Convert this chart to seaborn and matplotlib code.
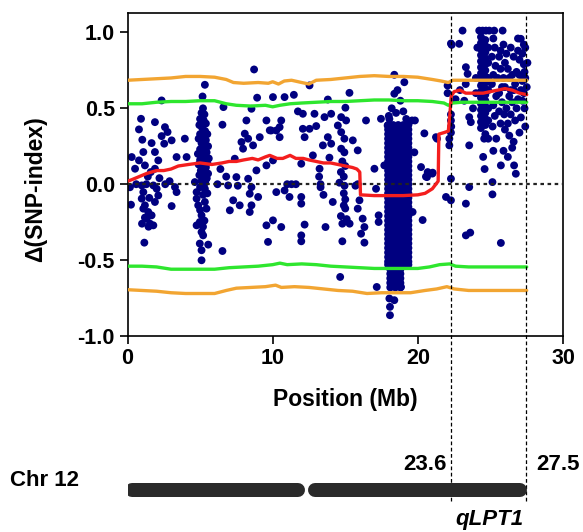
import matplotlib
matplotlib.use("Agg")
import matplotlib.pyplot as plt
import pandas as pd
import seaborn as sns

# ---------------- data ----------------
pts_0_4mb = [(0.17, -0.02), (0.24, -0.135), (0.29, 0.179), (0.52, 0.102), (0.79, 0.157), (0.79, 0.361),
             (0.93, 0.431), (0.98, -0.008), (0.98, -0.095), (1.02, 0.293), (1.09, 0.212), (1.09, -0.052),
             (1.09, -0.161), (1.2, 0.124), (1.2, -0.139), (1.16, -0.385), (1.32, -0.227), (1.43, -0.183),
             (1.55, -0.26), (1.66, 0.271), (1.66, -0.205), (1.78, -0.271), (1.78, -0.008), (1.89, 0.409),
             (1.89, 0.212), (1.89, 0.102), (1.89, -0.117), (2.01, -0.03), (2.12, 0.157), (2.12, -0.074),
             (2.35, 0.552), (2.35, 0.317), (2.53, 0.267), (2.58, 0.376), (2.76, 0.344), (3.04, 0.289),
             (3.04, -0.144), (3.27, -0.019), (3.38, 0.179), (3.38, -0.052), (3.95, 0.30), (4.07, 0.179),
             (1.4, 0.05), (1.6, 0.08), (2.2, 0.04), (0.6, 0.0), (2.6, 0.0), (2.9, 0.02), (1.3, 0.0),
             (1.5, -0.09), (1.2, -0.22), (1.0, -0.26), (1.45, -0.28)]
pts_5mb = [(5.33, 0.655), (5.17, 0.578), (5.2, 0.50), (5.1, 0.47), (5.3, 0.46), (5.0, 0.43), (5.25, 0.42),
           (4.95, 0.39), (5.4, 0.40), (5.15, 0.37), (5.35, 0.35), (5.0, 0.33), (5.5, 0.33), (5.2, 0.31),
           (4.9, 0.30), (5.4, 0.29), (5.1, 0.27), (5.3, 0.26), (5.55, 0.25), (5.0, 0.23), (5.2, 0.22),
           (5.45, 0.21), (4.85, 0.20), (5.1, 0.19), (5.35, 0.18), (5.6, 0.17), (5.0, 0.16), (5.25, 0.15),
           (5.5, 0.14), (4.9, 0.13), (5.15, 0.12), (5.4, 0.11), (5.05, 0.09), (5.3, 0.08), (5.55, 0.07),
           (4.95, 0.06), (5.2, 0.05), (5.45, 0.04), (5.1, 0.02), (5.35, 0.01), (4.64, 0.014), (5.44, 0.036),
           (4.76, -0.052), (4.76, -0.095), (4.87, -0.139), (5.33, -0.117), (5.44, -0.161), (5.1, -0.205),
           (4.98, -0.249), (4.76, -0.271), (5.1, -0.315), (5.21, -0.337), (4.98, -0.391), (5.56, -0.398),
           (5.1, -0.435), (5.1, -0.501), (5.33, -0.03), (5.0, -0.02), (5.2, -0.07), (5.5, -0.06),
           (5.0, -0.17), (5.3, -0.24), (5.2, -0.28)]
pts_6_11mb = [(6.61, 0.508), (6.54, 0.392), (6.54, -0.44), (6.93, -0.008), (7.05, -0.172), (7.28, -0.106),
              (7.39, 0.168), (7.5, 0.047), (7.73, -0.139), (7.85, 0.278), (7.96, 0.234), (8.08, 0.333),
              (8.19, 0.42), (8.31, 0.30), (8.31, 0.036), (8.42, -0.063), (8.42, -0.183), (8.54, 0.497),
              (8.54, -0.019), (8.54, -0.139), (8.65, 0.256), (8.72, 0.756), (8.88, 0.091), (8.93, 0.57),
              (9.0, -0.084), (9.11, 0.31), (9.57, 0.42), (9.57, 0.124), (9.57, -0.271), (9.68, -0.38),
              (9.8, 0.355), (10.02, 0.157), (10.02, -0.238), (9.9, 0.354), (10.02, 0.574), (10.25, 0.354),
              (10.48, 0.376), (10.48, 0.31), (10.59, 0.42), (10.25, -0.052), (10.59, -0.282), (10.82, 0.574),
              (10.82, -0.041), (6.2, 0.0), (6.8, 0.05), (7.6, -0.01), (6.4, 0.1)]
pts_11_18mb = [(11.16, -0.084), (11.46, 0.589), (11.74, 0.48), (11.97, 0.135), (11.97, -0.084),
               (11.97, -0.128), (11.97, -0.337), (11.97, -0.376), (12.08, 0.464), (12.08, 0.365),
               (12.2, 0.31), (12.2, -0.266), (12.54, 0.651), (12.54, 0.365), (12.77, 0.19), (12.88, 0.464),
               (13.0, 0.383), (13.23, 0.102), (13.46, 0.256), (13.57, 0.442), (13.64, -0.282), (13.8, 0.558),
               (13.8, 0.31), (13.91, 0.175), (14.03, 0.464), (14.03, 0.267), (14.14, -0.117), (14.49, 0.387),
               (15.29, 0.602), (15.01, 0.504), (15.52, 0.289), (15.86, 0.223), (15.86, -0.161),
               (15.98, -0.106), (16.2, -0.227), (16.32, -0.282), (16.09, -0.326), (16.32, -0.385),
               (16.43, 0.42), (17.01, 0.102), (17.12, -0.03), (17.17, -0.677), (17.3, -0.205), (17.3, -0.249),
               (17.46, 0.431), (17.69, 0.124), (11.0, 0.0), (11.3, 0.0), (11.6, 0.0), (13.2, 0.05),
               (13.3, -0.02), (13.5, -0.07), (13.3, 0.0), (15.7, -0.01), (15.86, 0.0),
               (14.72, 0.442), (15.06, 0.42), (14.72, 0.343), (14.94, 0.30), (14.72, 0.234), (14.94, 0.21),
               (14.8, 0.15), (15.0, 0.12), (14.7, 0.08), (14.9, 0.05), (14.6, 0.01), (14.95, -0.01),
               (14.9, -0.06), (15.0, -0.1), (14.9, -0.14), (15.0, -0.16), (14.7, -0.21), (14.8, -0.26),
               (15.3, -0.26), (15.1, -0.23), (14.8, -0.376), (14.65, -0.611)]
pts_around_blob = [(18.38, 0.721), (19.07, 0.672), (18.38, 0.596), (17.92, 0.387), (18.04, 0.43),
                   (19.6, 0.42), (19.8, 0.42), (18.2, 0.5), (18.5, 0.47), (19.0, 0.48), (18.8, 0.55),
                   (18.6, 0.62), (18.0, 0.45), (19.2, 0.43), (18.84, -0.677), (18.04, -0.753),
                   (18.38, -0.764), (18.08, -0.808), (18.08, -0.863), (19.64, -0.183)]
blob_cols = [17.95, 18.3, 18.65, 19.0, 19.35]
blob_rows = [0.39, 0.36, 0.33, 0.30, 0.27, 0.24, 0.21, 0.18, 0.15, 0.12, 0.09, 0.06, 0.03, 0.00,
             -0.03, -0.06, -0.09, -0.12, -0.15, -0.18, -0.21, -0.24, -0.27, -0.30, -0.33, -0.36,
             -0.39, -0.42, -0.45, -0.48, -0.51, -0.53]
tail_cols = [18.1, 18.45, 18.8]
tail_rows = [-0.56, -0.59, -0.62, -0.65, -0.68]
pts_20_23mb = [(19.76, 0.21), (20.22, 0.113), (20.68, 0.08), (20.45, 0.335), (21.25, 0.31), (21.0, 0.07),
               (20.56, 0.05), (20.63, 0.047), (21.02, 0.076), (20.33, -0.236), (21.94, -0.084),
               (22.28, -0.106), (22.28, 0.036), (22.28, 0.34), (22.17, 0.30), (22.17, 0.256),
               (22.05, 0.60), (22.05, 0.65), (21.32, 0.30), (22.28, 0.46), (22.28, 0.42), (22.3, 0.38),
               (22.28, 0.927), (22.33, 0.918), (22.85, 0.925)]
pts_qtl = [(23.08, 1.012), (24.23, 1.012), (24.46, 1.012), (24.69, 1.012), (24.92, 1.012),
           (25.26, 1.012), (25.84, 1.012), (27.09, 0.958),
           (24.35, 0.97), (24.35, 0.93), (24.35, 0.89), (24.35, 0.85), (24.35, 0.81), (24.35, 0.77),
           (24.35, 0.73), (24.35, 0.69), (24.35, 0.65), (24.35, 0.61), (24.35, 0.57), (24.35, 0.53),
           (24.35, 0.49), (24.35, 0.45), (24.35, 0.41), (24.35, 0.37),
           (24.65, 0.95), (24.65, 0.91), (24.65, 0.87), (24.65, 0.83), (24.65, 0.79), (24.65, 0.75),
           (24.65, 0.71), (24.65, 0.67), (24.65, 0.63), (24.65, 0.59), (24.65, 0.55), (24.65, 0.51),
           (24.65, 0.47), (24.65, 0.43), (24.65, 0.39), (24.65, 0.33),
           (24.85, 0.9), (24.85, 0.8), (24.85, 0.7), (24.85, 0.62), (24.85, 0.5), (24.85, 0.42), (24.85, 0.3),
           (25.2, 0.96), (25.3, 0.9), (25.1, 0.84), (25.35, 0.78), (25.2, 0.72), (25.1, 0.66), (25.4, 0.58),
           (25.2, 0.52), (25.3, 0.45), (25.15, 0.38), (25.4, 0.3), (25.2, 0.22),
           (25.7, 0.88), (25.9, 0.92), (26.1, 0.86), (26.4, 0.9), (26.6, 0.84), (26.9, 0.88), (27.0, 0.82),
           (27.2, 0.86), (27.3, 0.79), (27.35, 0.74), (27.4, 0.70), (27.2, 0.68), (26.8, 0.74), (26.5, 0.72),
           (26.2, 0.76), (25.9, 0.7), (25.7, 0.76), (26.0, 0.64), (26.3, 0.58), (26.6, 0.62), (26.9, 0.56),
           (27.2, 0.55), (27.35, 0.5), (26.1, 0.5), (25.8, 0.54), (25.6, 0.6), (26.4, 0.46), (26.7, 0.42),
           (27.1, 0.44), (27.4, 0.38), (25.7, 0.4), (26.0, 0.36), (26.3, 0.32), (26.6, 0.28), (25.9, 0.22),
           (26.2, 0.18), (26.5, 0.24), (25.72, 0.124), (26.63, 0.124), (27.3, 0.6), (27.4, 0.9),
           (26.0, 0.80), (26.3, 0.70), (26.7, 0.66), (27.0, 0.72), (27.1, 0.62), (26.8, 0.50), (26.5, 0.54),
           (25.95, 0.46), (26.2, 0.40), (27.0, 0.34), (27.5, 0.64), (27.55, 0.80), (25.6, 0.84),
           (25.8, 0.64), (26.4, 0.62), (26.9, 0.96), (27.3, 0.92), (25.5, 0.70), (25.6, 0.48),
           (23.31, 0.771), (23.43, 0.727), (23.3, 0.66), (22.9, 0.62), (23.54, 0.442), (23.65, 0.409),
           (23.54, 0.256), (22.6, 0.56), (23.2, 0.55), (23.8, 0.5), (24.0, 0.7), (24.1, 0.9), (24.0, 0.6),
           (24.57, 0.30), (23.54, -0.019), (23.31, -0.128), (25.14, 0.014), (25.14, -0.067), (26.75, 0.069),
           (23.31, -0.337), (23.61, -0.319), (25.72, -0.387), (24.6, 0.1), (24.5, 0.18)]

red_x = [0.0, 0.3, 0.8, 1.3, 2.0, 2.5, 3.0, 3.5, 4.2, 5.0, 5.8, 6.5, 7.0, 7.5, 8.0, 8.6, 9.0, 9.5, 9.8,
         10.3, 10.7, 11.2, 11.6, 12.1, 12.5, 13.0, 13.5, 14.0, 14.5, 15.0, 15.5, 15.8, 16.0, 16.05, 17.0,
         18.0, 19.0, 20.0, 20.5, 21.0, 21.4, 21.45, 21.8, 22.1, 22.2, 22.3, 22.5, 22.9, 23.3, 23.9, 24.5,
         25.0, 25.5, 26.0, 26.5, 27.0, 27.5]
red_y = [0.02, 0.03, 0.05, 0.07, 0.09, 0.09, 0.10, 0.12, 0.13, 0.14, 0.13, 0.14, 0.15, 0.15, 0.16, 0.17,
         0.16, 0.18, 0.19, 0.17, 0.17, 0.19, 0.17, 0.17, 0.16, 0.15, 0.14, 0.14, 0.13, 0.12, 0.11, 0.10,
         0.08, -0.07, -0.075, -0.075, -0.075, -0.07, -0.06, -0.03, 0.02, 0.33, 0.34, 0.35, 0.45, 0.58,
         0.61, 0.62, 0.60, 0.60, 0.60, 0.61, 0.62, 0.63, 0.62, 0.60, 0.59]

gu_x = [0, 1, 2, 3, 4, 5, 6, 6.8, 7.5, 8.5, 9.5, 10.0, 10.5, 11.2, 12, 13, 14, 15, 16, 17, 18, 19, 20, 21,
        21.8, 22.1, 22.4, 23, 24, 25, 26, 27, 27.5]
gu_y = [0.53, 0.53, 0.54, 0.545, 0.545, 0.55, 0.55, 0.53, 0.52, 0.515, 0.52, 0.51, 0.52, 0.53, 0.535,
        0.54, 0.545, 0.545, 0.55, 0.555, 0.555, 0.55, 0.55, 0.545, 0.535, 0.52, 0.535, 0.54, 0.54, 0.54,
        0.54, 0.54, 0.54]
ou_x = [0, 1, 2, 3, 4, 5, 6, 6.8, 7.3, 8, 9, 9.7, 10.0, 10.4, 10.8, 11.3, 12, 12.5, 13, 14, 15, 16, 17,
        18, 19, 20, 21, 21.6, 22.1, 22.4, 23, 24, 25, 26, 27, 27.5]
ou_y = [0.685, 0.69, 0.695, 0.70, 0.71, 0.71, 0.705, 0.69, 0.67, 0.665, 0.67, 0.665, 0.675, 0.66, 0.68,
        0.685, 0.67, 0.66, 0.685, 0.69, 0.70, 0.71, 0.715, 0.71, 0.71, 0.705, 0.69, 0.68, 0.67, 0.685,
        0.685, 0.685, 0.685, 0.685, 0.685, 0.685]
gl_x = [0, 1, 2, 3, 4, 5, 6, 7, 8, 9, 10, 10.5, 11, 12, 13, 14, 15, 16, 17, 18, 19, 20, 20.8, 21.5, 22.2,
        22.6, 23.5, 25, 26, 27.5]
gl_y = [-0.54, -0.54, -0.545, -0.56, -0.56, -0.56, -0.56, -0.55, -0.545, -0.54, -0.53, -0.52, -0.53,
        -0.525, -0.53, -0.54, -0.545, -0.55, -0.555, -0.555, -0.555, -0.555, -0.545, -0.53, -0.525,
        -0.54, -0.545, -0.545, -0.545, -0.545]
ol_x = [0, 1, 2, 3, 4, 5, 6, 6.8, 7.5, 8.5, 9.5, 10.2, 10.6, 11.5, 12.5, 13.5, 14.5, 15.5, 16.5, 17.5,
        18.5, 19.5, 20.5, 21.3, 22.0, 22.5, 23.5, 25, 26, 27.5]
ol_y = [-0.695, -0.70, -0.705, -0.715, -0.72, -0.72, -0.72, -0.70, -0.685, -0.68, -0.675, -0.665, -0.68,
        -0.675, -0.68, -0.69, -0.70, -0.705, -0.72, -0.715, -0.715, -0.715, -0.70, -0.69, -0.675, -0.69,
        -0.70, -0.70, -0.70, -0.70]

qtl_lines = [22.3, 27.45]
chr_segments = [(-0.2, 12.2), (12.4, 27.55)]
x_ticks = [0, 10, 20, 30]
y_ticks = [-1.0, -0.5, 0.0, 0.5, 1.0]
y_tick_labels = ["-1.0", "-0.5", "0.0", "0.5", "1.0"]

# ---------------- build table ----------------
pts = pts_0_4mb + pts_5mb + pts_6_11mb + pts_11_18mb + pts_around_blob + pts_20_23mb + pts_qtl
pts += [(c, r) for c in blob_cols for r in blob_rows]
pts += [(c, r) for c in tail_cols for r in tail_rows]
snp = pd.DataFrame(pts, columns=["pos", "delta"])

# ---------------- style ----------------
sns.set_theme(style="ticks")
plt.rcParams["font.family"] = ["Liberation Sans", "DejaVu Sans"]
plt.rcParams["font.weight"] = "bold"
for k in ["text.color", "axes.labelcolor", "xtick.color", "ytick.color", "axes.edgecolor"]:
    plt.rcParams[k] = "black"
FS_TICK = 15.5
FS_LAB = 16.5
FS_TXT = 16

W_PX, H_PX = 583, 532
fig = plt.figure(figsize=(W_PX / 100, H_PX / 100), dpi=100)
L = 127.5 / W_PX
W = (563 - 127.5) / W_PX
ax = fig.add_axes([L, 1 - 336 / H_PX, W, (336 - 12.7) / H_PX])

sns.scatterplot(data=snp, x="pos", y="delta", s=32, color="#000080", edgecolor="none",
                linewidth=0, ax=ax, zorder=2, legend=False)
ax.axhline(0, color="#222222", lw=1.6, ls=(0, (1.6, 1.6)), zorder=3)
for xx, yy, col in [(ou_x, ou_y, "#F2A532"), (ol_x, ol_y, "#F2A532"),
                    (gu_x, gu_y, "#2EE62E"), (gl_x, gl_y, "#2EE62E"),
                    (red_x, red_y, "#F41E1E")]:
    sns.lineplot(x=xx, y=yy, sort=False, estimator=None, color=col, lw=2.4, ax=ax, zorder=4)

ax.set_xlim(0, 30)
ax.set_ylim(-1.0, 1.13)
ax.set_xticks(x_ticks)
ax.set_xticklabels([str(t) for t in x_ticks])
ax.set_yticks(y_ticks)
ax.set_yticklabels(y_tick_labels)
ax.tick_params(direction="out", length=6, width=1.2, colors="black", labelsize=FS_TICK, pad=3)
for lab in ax.get_xticklabels() + ax.get_yticklabels():
    lab.set_fontweight("bold")
for sp in ax.spines.values():
    sp.set_color("black")
    sp.set_linewidth(1.2)
    sp.set_visible(True)
ax.set_xlabel("Position (Mb)", fontsize=FS_LAB, fontweight="bold", labelpad=13)
ax.set_ylabel("\u0394(SNP-index)", fontsize=FS_LAB, fontweight="bold")
ax.yaxis.set_label_coords(-0.185, 0.455)

for q in qtl_lines:
    ax.axvline(q, ymin=-0.51, ymax=1.0, clip_on=False, color="black", lw=0.9,
               ls=(0, (3, 2)), zorder=5)

# chromosome
cax = fig.add_axes([L, 1 - 510 / H_PX, W, 40 / H_PX])
cax.set_xlim(0, 30)
cax.set_ylim(0, 1)
cax.axis("off")
bar_px = 14
cap = (bar_px / 2) / (W * W_PX / 30)
for a, b in chr_segments:
    cax.plot([a + cap, b - cap], [0.5, 0.5], lw=bar_px * 0.72, color="#2a2a2a",
             solid_capstyle="round")

fig.text(10 / W_PX, 1 - 481 / H_PX, "Chr 12", fontsize=FS_TXT, fontweight="bold", ha="left", va="center")
fig.text(447 / W_PX, 1 - 464 / H_PX, "23.6", fontsize=FS_TXT, fontweight="bold", ha="right", va="center")
fig.text(536 / W_PX, 1 - 464 / H_PX, "27.5", fontsize=FS_TXT, fontweight="bold", ha="left", va="center")
fig.text(489 / W_PX, 1 - 519 / H_PX, "qLPT1", fontsize=FS_TXT, fontweight="bold", style="italic",
         ha="center", va="center")

fig.savefig("out.png", dpi=100)
